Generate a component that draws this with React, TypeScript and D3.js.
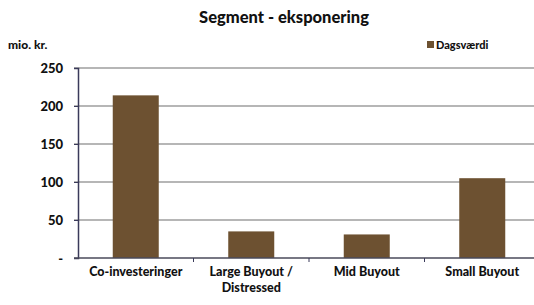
import React, { useEffect, useRef } from 'react';
import * as d3 from 'd3';

const categories = ['Co-investeringer', 'Large Buyout /\nDistressed', 'Mid Buyout', 'Small Buyout'];
const dagsvaerdi = [214, 35, 31, 105];
const yTicks = [0, 50, 100, 150, 200, 250];
const yTickLabels = ['-', '50', '100', '150', '200', '250'];

const App = () => {
  const svgRef = useRef<SVGSVGElement>(null);

  useEffect(() => {
    const width = 534;
    const height = 305;
    const left = 78;
    const right = 540;
    const top = 68;
    const bottom = 258;
    const font = 'Lato, "Open Sans", sans-serif';

    svgRef.current!.innerHTML = '';
    const svg = d3.select(svgRef.current)
      .attr('width', width)
      .attr('height', height)
      .style('font-family', font)
      .style('font-weight', '900');

    const xScale = d3.scaleBand()
      .domain(categories)
      .range([left, right])
      .paddingInner(0.6)
      .paddingOuter(0.3);
    const step = (right - left) / categories.length;

    const yScale = d3.scaleLinear().domain([0, 250]).range([bottom, top]);

    // grid
    svg.append('g')
      .selectAll('line')
      .data(yTicks.slice(1))
      .enter()
      .append('line')
      .attr('x1', left - 4)
      .attr('x2', right)
      .attr('y1', d => yScale(d))
      .attr('y2', d => yScale(d))
      .attr('stroke', '#6f6f6f')
      .attr('stroke-width', 1.2);

    // bars
    svg.selectAll('rect.bar')
      .data(dagsvaerdi)
      .enter()
      .append('rect')
      .attr('class', 'bar')
      .attr('x', (d, i) => left + step * i + (step - 46) / 2)
      .attr('y', d => yScale(d))
      .attr('width', 46)
      .attr('height', d => bottom - yScale(d))
      .attr('fill', '#6d5131');

    // y axis
    const yAxis = svg.append('g')
      .attr('transform', `translate(${left},0)`)
      .call(d3.axisLeft(yScale).tickValues(yTicks).tickSize(4).tickFormat((d, i) => yTickLabels[i]));
    yAxis.select('.domain').attr('stroke', '#3a3a5a').attr('stroke-width', 1.5);
    yAxis.selectAll('.tick line').attr('stroke', '#3a3a5a');
    yAxis.selectAll('.tick text')
      .attr('x', -15)
      .style('font-size', '13px')
      .style('font-family', font)
      .style('font-weight', '900')
      .attr('fill', '#111');

    // x axis
    svg.append('line')
      .attr('x1', left - 4).attr('x2', right)
      .attr('y1', bottom).attr('y2', bottom)
      .attr('stroke', '#4a4a5a').attr('stroke-width', 1.5);
    svg.append('g')
      .selectAll('line')
      .data(d3.range(1, categories.length))
      .enter()
      .append('line')
      .attr('x1', i => left + step * i)
      .attr('x2', i => left + step * i)
      .attr('y1', bottom)
      .attr('y2', bottom + 4)
      .attr('stroke', '#3a3a5a');

    const labels = svg.append('g')
      .selectAll('text')
      .data(categories)
      .enter()
      .append('text')
      .attr('x', d => (xScale(d) ?? 0) + xScale.bandwidth() / 2)
      .attr('y', 276)
      .attr('text-anchor', 'middle')
      .style('font-size', '12.5px')
      .attr('fill', '#111');
    labels.each(function (d) {
      const lines = d.split('\n');
      const t = d3.select(this);
      const x = t.attr('x');
      lines.forEach((ln, i) => {
        t.append('tspan').attr('x', x).attr('dy', i === 0 ? 0 : 16).text(ln);
      });
    });

    // title
    svg.append('text')
      .attr('x', 284).attr('y', 23)
      .attr('text-anchor', 'middle')
      .style('font-size', '16.5px')
      .attr('fill', '#111')
      .text('Segment - eksponering');

    svg.append('text')
      .attr('x', 8).attr('y', 49)
      .style('font-size', '12px')
      .attr('fill', '#111')
      .text('mio. kr.');

    // legend
    svg.append('rect')
      .attr('x', 427).attr('y', 41)
      .attr('width', 7).attr('height', 7)
      .attr('fill', '#6d5131');
    svg.append('text')
      .attr('x', 436).attr('y', 49)
      .style('font-size', '11px')
      .attr('fill', '#111')
      .text('Dagsværdi');
  }, []);

  return (
    <div style={{ position: 'absolute', left: 0, top: 0 }}>
      <svg ref={svgRef}></svg>
    </div>
  );
};

export default App;
